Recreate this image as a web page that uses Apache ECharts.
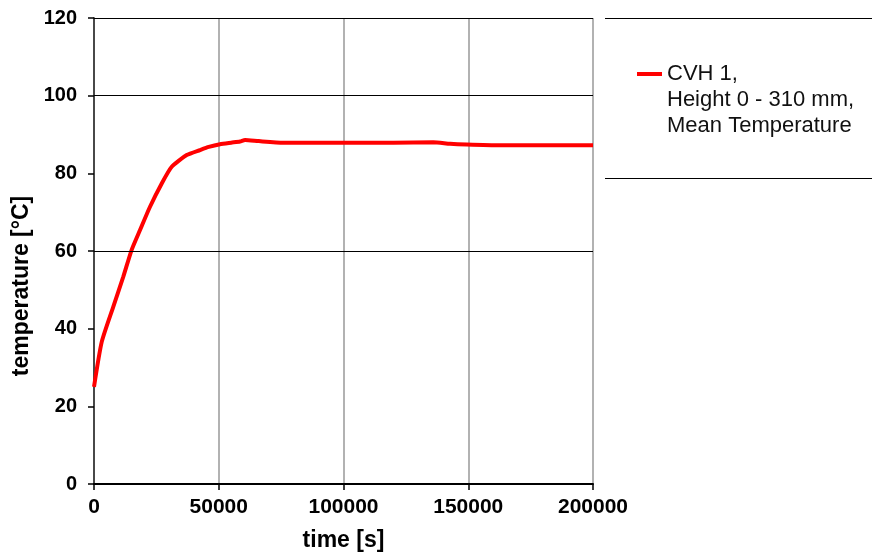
<!DOCTYPE html>
<html>
<head>
<meta charset="utf-8">
<script src="https://cdn.jsdelivr.net/npm/echarts@6/dist/echarts.min.js"></script>
<style>
  html, body { margin: 0; padding: 0; background: #fff; }
  #chart { width: 872px; height: 552px; }
</style>
</head>
<body>
<div id="chart"></div>
<script>
// Mean temperature of CVH 1 over time
const timeS = [0, 3100, 7750, 11750, 15100, 18450, 22450, 27150, 31150, 37150, 42500, 46000,
  50500, 55000, 58550, 60550, 66000, 75900, 90000, 100000, 120000, 136000, 142700, 149400,
  162800, 180000, 200000];
const tempC = [25, 36.6, 45.7, 53.4, 60.3, 65.4, 71.4, 77.4, 81.7, 84.7, 86.0, 86.8,
  87.5, 87.9, 88.2, 88.6, 88.3, 87.9, 87.9, 87.9, 87.9, 88.0, 87.6, 87.4,
  87.2, 87.2, 87.2];
const seriesName = 'CVH 1,\nHeight 0 - 310 mm,\nMean Temperature';
const xTicks = [0, 50000, 100000, 150000, 200000];
const yTicks = [0, 20, 40, 60, 80, 100, 120];
const hLines = [60, 100, 120];

const points = timeS.map((t, i) => [t, tempC[i]]);

const chart = echarts.init(document.getElementById('chart'), null, { renderer: 'canvas' });
const font = 'Arial, "Liberation Sans", sans-serif';

// legend key: a short bar at the top of a tall, otherwise empty box,
// so the bar sits level with the first line of the three-line label
const legendIcon = 'path://M0,0L25,0L25,4L0,4Z M0,55.9L0.01,55.9L0.01,56L0,56Z';

chart.setOption({
  animation: false,
  backgroundColor: '#fff',
  grid: { left: 94, right: 279, top: 18, bottom: 68, containLabel: false, outerBoundsMode: 'none' },
  xAxis: [{
    type: 'value',
    min: xTicks[0], max: xTicks[xTicks.length - 1], interval: 50000,
    name: 'time [s]', nameLocation: 'middle', nameGap: 45,
    nameTextStyle: { fontFamily: font, fontWeight: 'bold', fontSize: 23, color: '#000' },
    axisLine: { onZero: false, lineStyle: { color: '#000', width: 2 } },
    axisTick: { show: true, length: 6, lineStyle: { color: '#000', width: 1.5 } },
    axisLabel: { margin: 13, fontFamily: font, fontWeight: 'bold', fontSize: 21, color: '#000',
      formatter: v => String(v) },
    splitLine: { show: true, lineStyle: { color: '#999', width: 1.5 } }
  }, {
    type: 'value', position: 'top',
    min: xTicks[0], max: xTicks[xTicks.length - 1],
    axisLine: { show: false }, axisTick: { show: false }, axisLabel: { show: false },
    splitLine: { show: false }
  }],
  yAxis: [{
    type: 'value',
    min: yTicks[0], max: yTicks[yTicks.length - 1], interval: 20,
    name: 'temperature [°C]', nameLocation: 'middle', nameGap: 61,
    nameTextStyle: { fontFamily: font, fontWeight: 'bold', fontSize: 23, color: '#000', padding: [0, 70, 0, 0] },
    axisLine: { show: true, lineStyle: { color: '#333', width: 1.5 } },
    axisTick: { show: true, length: 6, lineStyle: { color: '#000', width: 1.5 } },
    axisLabel: { margin: 17, fontFamily: font, fontWeight: 'bold', fontSize: 20, color: '#000' },
    splitLine: { show: false }
  }, {
    type: 'value', position: 'right',
    min: yTicks[0], max: yTicks[yTicks.length - 1],
    axisLine: { show: true, lineStyle: { color: '#444', width: 1.5 } },
    axisTick: { show: false }, axisLabel: { show: false }, splitLine: { show: false }
  }],
  legend: {
    left: 637, top: 61, padding: 0,
    orient: 'vertical',
    itemWidth: 25, itemHeight: 56, itemGap: 0,
    icon: legendIcon,
    textStyle: { fontFamily: font, fontSize: 22, color: '#111', lineHeight: 26 },
    data: [seriesName]
  },
  series: [{
    name: seriesName,
    type: 'line',
    data: points,
    showSymbol: false,
    smooth: 0.2,
    lineStyle: { color: '#ff0000', width: 4 },
    itemStyle: { color: '#ff0000' },
    markLine: {
      silent: true,
      symbol: ['none', 'none'],
      label: { show: false },
      lineStyle: { color: '#000', width: 1, type: 'solid' },
      data: hLines.map(v => ({ yAxis: v }))
    }
  }],
  graphic: [
    { type: 'line', shape: { x1: 605, y1: 18.5, x2: 872, y2: 18.5 }, style: { stroke: '#000', lineWidth: 1 } },
    { type: 'line', shape: { x1: 605, y1: 178.5, x2: 872, y2: 178.5 }, style: { stroke: '#000', lineWidth: 1 } }
  ]
});
</script>
</body>
</html>
